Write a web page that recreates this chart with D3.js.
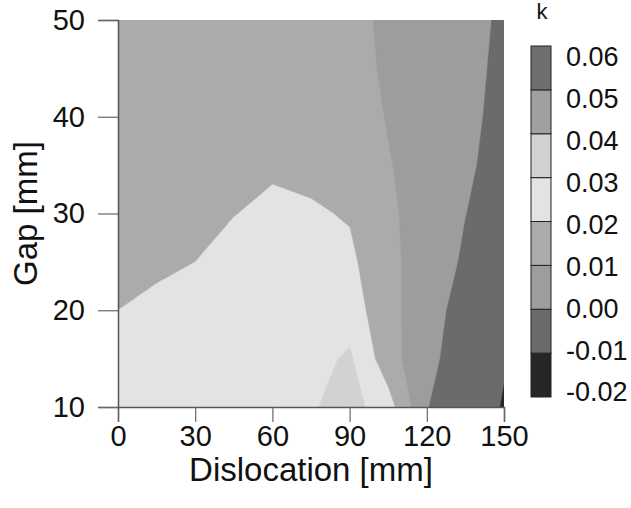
<!DOCTYPE html>
<html>
<head>
<meta charset="utf-8">
<script src="https://cdn.jsdelivr.net/npm/d3@7/dist/d3.min.js"></script>
<style>
  body { margin: 0; background: #ffffff; }
  text { font-family: Arial, "Liberation Sans", sans-serif; fill: #111111; }
</style>
</head>
<body>
<div id="chart"></div>
<script>
/** Data: k on a dislocation x gap grid */
const dislocation = [0, 15, 30, 45, 60, 75, 90, 105, 120, 135, 150];
const gap = [10, 15, 20, 25, 30, 35, 40, 45, 50];
const kRows = [
  [0.022, 0.024, 0.026, 0.027, 0.028, 0.029, 0.034, 0.024, 0.0003, -0.006, -0.0105],
  [0.021, 0.023, 0.025, 0.027, 0.028, 0.0265, 0.0315, 0.014, 0.0025, -0.005, -0.0095],
  [0.020, 0.0225, 0.0245, 0.026, 0.027, 0.027, 0.025, 0.013, 0.004, -0.004, -0.007],
  [0.016, 0.018, 0.020, 0.0225, 0.025, 0.025, 0.022, 0.012, 0.006, -0.0015, -0.005],
  [0.015, 0.016, 0.018, 0.0198, 0.0215, 0.0211, 0.0192, 0.0115, 0.006, 0.0001, -0.004],
  [0.016, 0.017, 0.0175, 0.018, 0.019, 0.0175, 0.017, 0.0105, 0.006, 0.0012, -0.003],
  [0.016, 0.016, 0.0165, 0.017, 0.017, 0.0165, 0.014, 0.0095, 0.006, 0.002, -0.0025],
  [0.016, 0.016, 0.016, 0.016, 0.016, 0.016, 0.0135, 0.0085, 0.0055, 0.0025, -0.002],
  [0.016, 0.016, 0.016, 0.016, 0.016, 0.015, 0.013, 0.008, 0.005, 0.003, -0.0015]
];
const levels = [-0.02, -0.01, 0.0, 0.01, 0.02, 0.03, 0.04, 0.05, 0.06];
const levelLabels = ["-0.02", "-0.01", "0.00", "0.01", "0.02", "0.03", "0.04", "0.05", "0.06"];
const bandColors = ["#262626", "#6b6b6b", "#9d9d9d", "#ababab", "#e3e3e3", "#d2d2d2", "#a0a0a0", "#6e6e6e"];
const xTicks = [0, 30, 60, 90, 120, 150];
const yTicks = [10, 20, 30, 40, 50];

/** Layout */
const width = 631;
const height = 508;
const plot = { left: 118, right: 504, top: 20, bottom: 407 };
const bar = { left: 531, width: 20, top: 46, bottom: 397 };

const svg = d3
  .select("#chart")
  .append("svg")
  .attr("width", width)
  .attr("height", height);

const x = d3.scaleLinear().domain([0, 150]).range([plot.left, plot.right]);
const y = d3.scaleLinear().domain([10, 50]).range([plot.bottom, plot.top]);

/** Filled contours */
const nx = dislocation.length;
const ny = gap.length;
const stepX = dislocation[1] - dislocation[0];
const stepY = gap[1] - gap[0];

const contours = d3
  .contours()
  .size([nx, ny])
  .thresholds(levels.slice(0, -1))(kRows.flat());

const gridToPx = d3.geoTransform({
  point(px, py) {
    this.stream.point(
      x(dislocation[0] + (px - 0.5) * stepX),
      y(gap[0] + (py - 0.5) * stepY)
    );
  },
});
const path = d3.geoPath(gridToPx);

svg
  .append("clipPath")
  .attr("id", "plot-clip")
  .append("rect")
  .attr("x", plot.left)
  .attr("y", plot.top)
  .attr("width", plot.right - plot.left)
  .attr("height", plot.bottom - plot.top);

svg
  .append("g")
  .attr("clip-path", "url(#plot-clip)")
  .selectAll("path")
  .data(contours)
  .enter()
  .append("path")
  .attr("d", path)
  .attr("fill", (d, i) => bandColors[i])
  .attr("stroke", (d, i) => bandColors[i])
  .attr("stroke-width", 0.5);

/** Axes */
const xAxis = svg
  .append("g")
  .attr("transform", `translate(0, ${plot.bottom})`)
  .call(d3.axisBottom(x).tickValues(xTicks).tickSize(15).tickPadding(3));

const yAxis = svg
  .append("g")
  .attr("transform", `translate(${plot.left}, 0)`)
  .call(d3.axisLeft(y).tickValues(yTicks).tickSize(20).tickPadding(13));

[xAxis, yAxis].forEach((g) => {
  g.select(".domain").attr("stroke", "#555555").attr("stroke-width", 1.5);
  g.selectAll(".tick line").attr("stroke", "#666666").attr("stroke-width", 1.2);
  g.selectAll(".tick text")
    .attr("fill", "#111111")
    .style("font-size", "29px")
    .style("font-family", 'Arial, "Liberation Sans", sans-serif');
});

/** Axis titles */
svg
  .append("text")
  .attr("x", (plot.left + plot.right) / 2)
  .attr("y", 481)
  .attr("text-anchor", "middle")
  .style("font-size", "33px")
  .text("Dislocation [mm]");

svg
  .append("text")
  .attr("transform", `translate(37, ${(plot.top + plot.bottom) / 2}) rotate(-90)`)
  .attr("text-anchor", "middle")
  .style("font-size", "33px")
  .text("Gap [mm]");

/** Colour bar */
const yBar = d3
  .scaleLinear()
  .domain([levels[0], levels[levels.length - 1]])
  .range([bar.bottom, bar.top]);
const yBarLabel = d3
  .scaleLinear()
  .domain([levels[0], levels[levels.length - 1]])
  .range([392, 57]);

const bands = d3.pairs(levels);
svg
  .append("g")
  .selectAll("rect")
  .data(bands)
  .enter()
  .append("rect")
  .attr("x", bar.left)
  .attr("y", (d) => yBar(d[1]))
  .attr("width", bar.width)
  .attr("height", (d) => yBar(d[0]) - yBar(d[1]))
  .attr("fill", (d, i) => bandColors[i])
  .attr("stroke", "#222222")
  .attr("stroke-width", 1);

svg
  .append("g")
  .selectAll("text")
  .data(levels)
  .enter()
  .append("text")
  .attr("x", bar.left + bar.width + 15)
  .attr("y", (d) => yBarLabel(d))
  .attr("dy", "0.35em")
  .style("font-size", "27px")
  .text((d, i) => levelLabels[i]);

svg
  .append("text")
  .attr("x", 542)
  .attr("y", 19)
  .attr("text-anchor", "middle")
  .style("font-size", "22px")
  .text("k");
</script>
</body>
</html>
